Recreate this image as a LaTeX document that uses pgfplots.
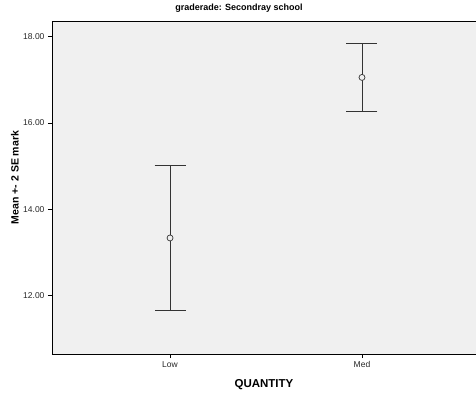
\documentclass[border=0pt]{standalone}
\usepackage{fontspec}
\setmainfont{Liberation Sans}
\usepackage{pgfplots}
\pgfplotsset{compat=1.18}
\usetikzlibrary{calc}
\definecolor{bgc}{HTML}{F0F0F0}
\definecolor{barc}{HTML}{333333}
\begin{document}
\begin{tikzpicture}
\begin{axis}[name=ax, scale only axis, width=424pt, height=333pt,
  xmin=-0.615, xmax=1.594, ymin=10.638, ymax=18.364,
  axis background/.style={fill=bgc},
  axis x line=box, axis y line=left,
  axis line style={-, black, line width=0.8pt},
  xtick pos=left, ytick pos=left,
  tick align=outside, major tick length=4pt,
  tick style={black, line width=0.7pt},
  xtick={0,1}, xticklabels={Low,Med},
  ytick={12,14,16,18},
  /pgf/number format/assume math mode=true,
  yticklabel style={/pgf/number format/fixed, /pgf/number format/fixed zerofill, /pgf/number format/precision=2, font=\fontsize{8.5}{10}\selectfont, color=black!85},
  xticklabel style={font=\fontsize{8.5}{10}\selectfont, color=black!85},
  xlabel={QUANTITY},
  ylabel={Mean +- 2 SE mark},
  xlabel style={font=\bfseries\fontsize{11.5}{13}\selectfont, at={(axis description cs:0.5,-0.093)}, anchor=center},
  ylabel style={font=\bfseries\fontsize{10.5}{12}\selectfont, at={(axis description cs:-0.0873,0.53)}, anchor=center},
  title={graderade: Secondray school},
  title style={font=\bfseries\fontsize{9}{10}\selectfont, at={(axis description cs:0.441,1.021)}, anchor=center},
]
\addplot[only marks, mark=*, mark size=3pt, mark options={draw=barc, fill=bgc, line width=0.7pt},
  error bars/.cd, y dir=both, y explicit,
  error bar style={line width=0.9pt, color=barc},
  error mark options={rotate=90, mark size=15.5pt, line width=0.9pt, color=barc}]
  coordinates {(0,13.33) +- (0,1.675) (1,17.055) +- (0,0.785)};
\end{axis}
\pgfresetboundingbox
\path ($(ax.south west)+(-52pt,-42pt)$) rectangle ($(ax.north east)+(0pt,21pt)$);
\end{tikzpicture}
\end{document}
